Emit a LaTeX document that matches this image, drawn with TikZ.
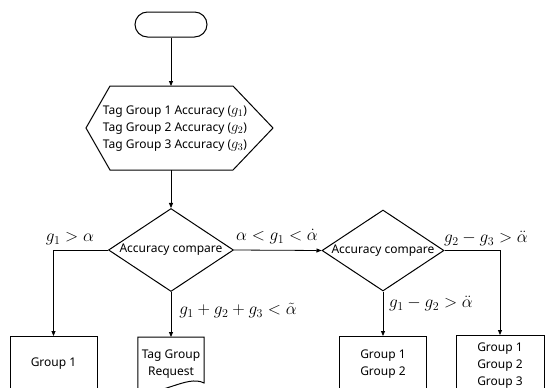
\documentclass[tikz,border=0pt]{standalone}
\usepackage{fontspec}
\newfontfamily\lblfont{Noto Sans}
\usetikzlibrary{shapes.geometric,shapes.misc,arrows.meta}
\newcommand{\hg}[1]{{\fontsize{14}{17}\selectfont$g_{#1}$}}
\begin{document}
\begin{tikzpicture}[x=1pt,y=-1pt,
  arr/.style={-{Triangle[length=5pt,width=4pt]}, line width=0.8pt},
  shp/.style={draw, line width=1pt},
  txt/.style={font=\lblfont\fontsize{12}{17}\selectfont, align=center},
  mlab/.style={font=\fontsize{17}{20}\selectfont},
  dia/.style={shp, diamond, aspect=1.5, inner sep=0pt, minimum width=125pt, minimum height=83pt, txt},
  box/.style={shp, rectangle, anchor=north, minimum width=87pt, inner sep=0pt, txt}]
\useasboundingbox (0,0) rectangle (547,388);
\clip (0,0) rectangle (547,388);
\node[shp, rounded rectangle, minimum width=72pt, minimum height=25pt, inner sep=0pt] (term) at (171,24.5) {};
\coordinate (hextop) at (171,86);
\coordinate (hexbot) at (171,170);
\draw[shp] (110,86) -- (233,86) -- (273,128) -- (233,170) -- (110,170) -- (86,128) -- cycle;
\node[txt] (hex) at (175,128.5) {Tag Group 1 Accuracy (\hg{1})\\Tag Group 2 Accuracy (\hg{2})\\Tag Group 3 Accuracy (\hg{3})};
\node[dia] (d1) at (171,250) {Accuracy compare};
\node[dia, minimum width=122pt, minimum height=81pt] (d2) at (383,250.5) {Accuracy compare};
\node[box, minimum height=54pt] (g1) at (53.5,336) {Group 1};
\node[txt, anchor=north, minimum width=66pt, minimum height=54pt, inner sep=0pt] (doc) at (171,337) {Tag Group\\Request};
\draw[shp] (doc.north west) -- (doc.north east) -- (204,383) .. controls (187,374) and (159,398) .. (138,390) -- cycle;
\node[box, minimum height=56pt] (g12) at (383,336) {Group 1\\Group 2};
\node[box, minimum width=88pt, minimum height=60pt] (g123) at (500,335) {Group 1\\Group 2\\Group 3};
\draw[arr] (term) -- (hextop);
\draw[arr] (hexbot) -- (d1);
\draw[arr] (d1.west) -| (g1.north);
\draw[arr] (d1.south) -- (doc.north);
\draw[arr] (d1.east) -- (d2.west);
\draw[arr] (d2.south) -- (g12.north);
\draw[arr] (d2.east) -| (g123.north);
\node[mlab] (l1) at (70,239) {$g_1>\alpha$};
\node[mlab] (l2) at (277,237) {$\alpha<g_1<\dot{\alpha}$};
\node[mlab] (l3) at (238,311) {$g_1+g_2+g_3<\tilde{\alpha}$};
\node[mlab] (l4) at (431,304) {$g_1-g_2>\ddot{\alpha}$};
\node[mlab] (l5) at (486,239) {$g_2-g_3>\ddot{\alpha}$};
\end{tikzpicture}
\end{document}
